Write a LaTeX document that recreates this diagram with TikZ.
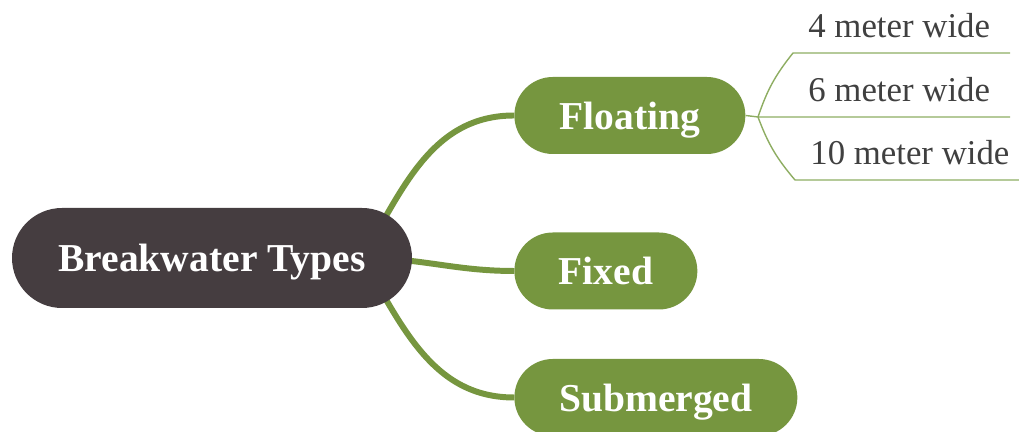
\documentclass[tikz,border=0pt]{standalone}
\usepackage{fontspec}
\setmainfont{Liberation Serif}
\usetikzlibrary{backgrounds}
\definecolor{rootgray}{HTML}{453D40}
\definecolor{branchgreen}{HTML}{76963F}
\definecolor{leafgreen}{HTML}{8EAD62}
\definecolor{leaftext}{HTML}{404040}
\begin{document}
\begin{tikzpicture}[
    pill/.style={rounded corners=#1, text=white, text depth=0pt, font=\fontsize{22.5}{27}\selectfont\bfseries},
    topic/.style={pill=0.77cm, fill=branchgreen, minimum height=1.54cm, anchor=west},
    branch/.style={draw=branchgreen, line width=3.4pt},
    leaf/.style={anchor=south west, inner xsep=0.3cm, inner ysep=0.3cm,
        text depth=0pt, text=leaftext, font=\fontsize{19.8}{24}\selectfont},
    twig/.style={draw=leafgreen, line width=0.8pt}]
        \useasboundingbox (0,0) rectangle (20.38,8.64);

        \node[pill=1cm, fill=rootgray, minimum width=8cm, minimum height=2cm] (root) at (4.24,3.48) {Breakwater Types};

        \node[topic, minimum width=4.62cm] (floating) at (10.28,6.33) {Floating};
        \node[topic, minimum width=3.66cm] (fixed) at (10.28,3.22) {Fixed};
        \node[topic, minimum width=5.66cm] (submerged) at (10.28,0.69) {Submerged};

        \coordinate (hub) at ([xshift=-1cm]root.east);
        \begin{scope}[on background layer]
                \foreach \t/\a in {floating/60, fixed/0, submerged/-60} {
                        \draw[branch] (hub) to[out=\a,in=180] (\t.west);
                    }
            \end{scope}

        \node[leaf] (w4) at (15.86,7.58) {4 meter wide};
        \node[leaf] (w6) at (15.86,6.30) {6 meter wide};
        \node[leaf] (w10) at (15.90,5.04) {10 meter wide};

        \coordinate (fork) at (15.16,6.30);
        \coordinate (edge) at (20.2,0);
        \coordinate (edge10) at (20.38,0);
        \draw[twig] (floating.east) -- (fork) -- (w6.south west) -- (w6.south west -| edge);
        \draw[twig] (fork) to[bend left=10] (w4.south west) -- (w4.south west -| edge);
        \draw[twig] (fork) to[bend right=10] (w10.south west) -- (w10.south west -| edge10);
    \end{tikzpicture}
\end{document}
